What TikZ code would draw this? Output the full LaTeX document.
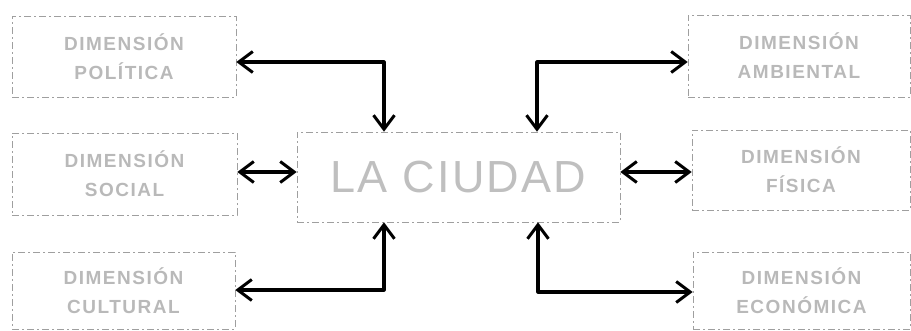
\documentclass[tikz,border=0pt]{standalone}
\usepackage{fontspec}
\setmainfont{Liberation Sans}
\newfontfamily\dimfont[LetterSpace=8]{Liberation Sans}
\newfontfamily\cityfont[LetterSpace=5]{Liberation Sans}
\usetikzlibrary{arrows.meta}
\tikzset{
  dimbox/.style={draw=gray!75, line width=0.6pt, dash pattern=on 7pt off 3pt on 2pt off 3pt, align=center, inner sep=0pt, text=gray!55, font=\dimfont\bfseries\fontsize{19}{29}\selectfont},
  citybox/.style={draw=gray!75, line width=0.6pt, dash pattern=on 7pt off 3pt on 2pt off 3pt, inner sep=0pt, text=gray!50, font=\cityfont\fontsize{45}{50}\selectfont},
  link/.style={line width=3.2pt, line join=round, {Straight Barb[length=14pt,width=21pt,line width=3pt]}-{Straight Barb[length=14pt,width=21pt,line width=3pt]}}
}
\begin{document}
\begin{tikzpicture}[x=1pt,y=-1pt]
\useasboundingbox (0,0) rectangle (911,330);
\node[dimbox, minimum width=224pt, minimum height=81pt] (tl) at (124,56.5) {DIMENSIÓN\\POLÍTICA};
\node[dimbox, minimum width=222pt, minimum height=82pt] (tr) at (799,56) {DIMENSIÓN\\AMBIENTAL};
\node[dimbox, minimum width=225pt, minimum height=82pt] (ml) at (124.5,174) {DIMENSIÓN\\SOCIAL};
\node[dimbox, minimum width=218pt, minimum height=80pt] (mr) at (801,170) {DIMENSIÓN\\FÍSICA};
\node[dimbox, minimum width=223pt, minimum height=77pt] (bl) at (123.5,290.5) {DIMENSIÓN\\CULTURAL};
\node[dimbox, minimum width=217pt, minimum height=77pt] (br) at (801.5,290.5) {DIMENSIÓN\\ECONÓMICA};
\node[citybox, minimum width=323pt, minimum height=90pt] (c) at (458.5,177) {LA CIUDAD};
\coordinate (k1) at (384,62);
\coordinate (k2) at (537,62);
\coordinate (k3) at (384,290);
\coordinate (k4) at (538,292);
\coordinate (hl) at (240,172);
\coordinate (hr) at (690,172);
\draw[link] (tl.east |- k1) -- (k1) -- (k1 |- c.north);
\draw[link] (tr.west |- k2) -- (k2) -- (k2 |- c.north);
\draw[link] (bl.east |- k3) -- (k3) -- (k3 |- c.south);
\draw[link] (br.west |- k4) -- (k4) -- (k4 |- c.south);
\draw[link] (ml.east |- hl) -- (c.west |- hl);
\draw[link] (c.east |- hr) -- (mr.west |- hr);
\end{tikzpicture}
\end{document}
